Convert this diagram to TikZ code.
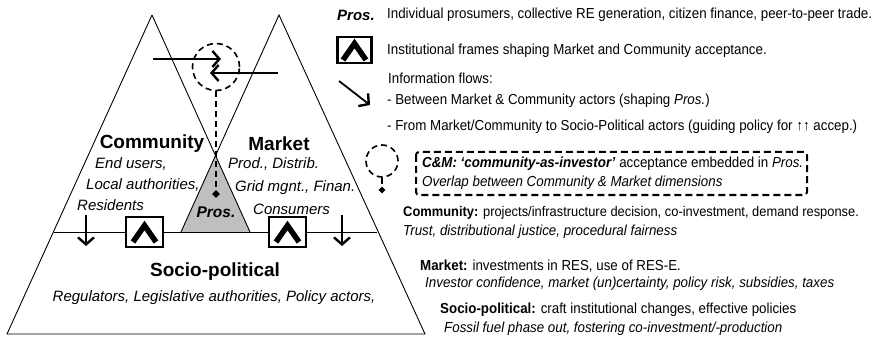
\documentclass[tikz,border=0pt]{standalone}
\usepackage{fontspec}
\setmainfont{Liberation Sans}
\newfontfamily\legfont{Liberation Sans}[FakeStretch=0.92]
\usetikzlibrary{arrows.meta,shapes.geometric}

\begin{document}
\begin{tikzpicture}[x=1pt,y=-1pt,
edge/.style = {line width=0.9pt},
flow/.style = {line width=1.8pt, -{Straight Barb[length=7pt,width=16pt,line width=2.4pt]}},
dim/.style = {font=\fontsize{19}{22}\selectfont\bfseries, inner sep=0},
actor/.style = {font=\fontsize{15}{18}\selectfont\itshape, anchor=west, inner sep=0},
leg/.style = {font=\legfont\fontsize{14.5}{17}\selectfont, anchor=west, inner sep=0},
frame/.style = {draw, fill=white, line width=2.6pt, minimum width=34pt, minimum height=26pt, inner sep=0,
  path picture={\draw[line width=5.5pt] ([xshift=-11.5pt,yshift=-10pt]path picture bounding box.center) -- ([yshift=6.5pt]path picture bounding box.center) -- ([xshift=11.5pt,yshift=-10pt]path picture bounding box.center);}},
overlap/.style = {draw, circle, inner sep=0, line width=1.6pt, dash pattern=on 6pt off 4pt},
link/.style = {line width=1.6pt, dash pattern=on 6pt off 4pt},
dot/.style = {diamond, fill=black, inner sep=0, minimum size=8pt}]
\useasboundingbox (0,0) rectangle (872,339);

\coordinate (ctop) at (152,15);
\coordinate (mtop) at (279,15);
\coordinate (cl) at (54,232);
\coordinate (cr) at (250,232);
\coordinate (ml) at (181,232);
\coordinate (mr) at (377,232);
\coordinate (bl) at (7,334);
\coordinate (br) at (425,334);
\coordinate (px) at (215.5,155.6);

\fill[black!25] (px) -- (cr) -- (ml) -- cycle;
\draw[edge] (ctop) -- (bl) -- (br) -- (mtop) -- (ml);
\draw[edge] (ctop) -- (cr);
\draw[edge] (cl) -- (mr);

\node[dim] (comm) at (152,144) {Community};
\node[dim] (mark) at (279,144) {Market};
\node[actor] (eu) at (95,164) {End users,};
\node[actor] (la) at (86,185) {Local authorities,};
\node[actor] (res) at (77,205) {Residents};
\node[actor] (prod) at (228,164) {Prod., Distrib.};
\node[actor] (grid) at (235,188) {Grid mgnt., Finan.};
\node[actor] (cons) at (253,209) {Consumers};
\node[font=\fontsize{15.5}{18}\selectfont\bfseries\itshape, inner sep=0] (pros) at (216,212) {Pros.};
\node[dim] (sp) at (215,272) {Socio-political};
\node[actor, anchor=center] (reg) at (214,298) {Regulators, Legislative authorities, Policy actors,};

\node[frame, minimum width=37pt, minimum height=30pt] (f1) at (144.5,232) {};
\node[frame, minimum width=37pt, minimum height=30pt] (f2) at (287.5,232) {};
\coordinate (d1s) at (86,215);
\coordinate (d1e) at (86,246);
\coordinate (d2s) at (342,215);
\coordinate (d2e) at (342,246);
\draw[flow] (d1s) -- (d1e);
\draw[flow] (d2s) -- (d2e);

\node[overlap, minimum size=47pt] (cm) at (216,67) {};
\node[dot] (cmd) at (216,194) {};
\draw[link] (cm) -- (cmd);
\coordinate (cin) at (153,59);
\coordinate (cout) at (221,59);
\coordinate (min) at (278,73);
\coordinate (mout) at (210,73);
\draw[flow] (cin) -- (cout);
\draw[flow] (min) -- (mout);

\node[font=\fontsize{15}{18}\selectfont\bfseries\itshape, anchor=west, inner sep=0] (lpros) at (337,15) {Pros.};
\node[leg] (lprost) at (387,15) {Individual prosumers, collective RE generation, citizen finance, peer-to-peer trade.};
\node[frame] (lframe) at (354.5,50) {};
\node[leg] (lframet) at (387,51) {Institutional frames shaping Market and Community acceptance.};
\coordinate (lfs) at (339,81);
\coordinate (lfe) at (370,105);
\draw[flow] (lfs) -- (lfe);
\node[leg] (linfo) at (388,78) {Information flows:};
\node[leg] (lbetw) at (387,101) {- Between Market \& Community actors (shaping \textit{Pros.})};
\node[leg] (lfrom) at (387,127) {- From Market/Community to Socio-Political actors (guiding policy for ↑↑ accep.)};

\node[overlap, minimum size=32pt] (lcirc) at (382,161) {};
\node[dot, minimum size=7pt] (ldot) at (382,190) {};
\draw[link] (lcirc) -- (ldot);
\draw[line width=2pt, dash pattern=on 7pt off 4pt, rounded corners=3pt] (416,152) rectangle (807,195);
\node[leg] (lcm) at (422,164) {\textbf{\textit{C\&M: ‘community-as-investor’}} acceptance embedded in \textit{Pros.}};
\node[leg] (lcmi) at (422,183) {\itshape Overlap between Community \& Market dimensions};

\node[leg, font=\legfont\fontsize{14}{17}\selectfont] (lcomm) at (403,213) {\textbf{Community:} projects/infrastructure decision, co-investment, demand response.};
\node[leg] (lcommi) at (403,232) {\itshape Trust, distributional justice, procedural fairness};
\node[leg] (lmark) at (420,266) {\textbf{Market:} investments in RES, use of RES-E.};
\node[leg] (lmarki) at (425,284) {\itshape Investor confidence, market (un)certainty, policy risk, subsidies, taxes};
\node[leg] (lsp) at (440,310) {\textbf{Socio-political:} craft institutional changes, effective policies};
\node[leg] (lspi) at (444,329) {\itshape Fossil fuel phase out, fostering co-investment/-production};
\end{tikzpicture}
\end{document}
